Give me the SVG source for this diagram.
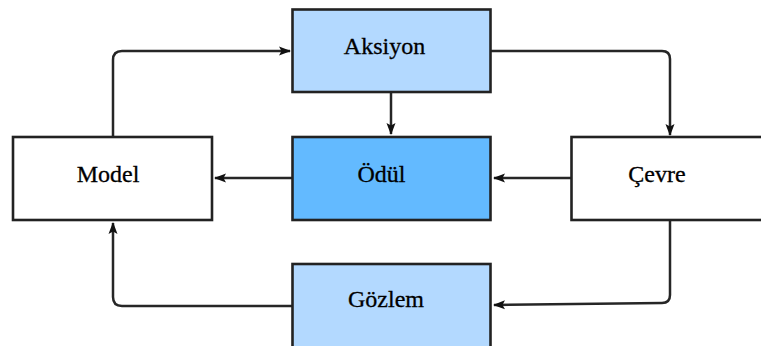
<svg xmlns="http://www.w3.org/2000/svg" width="761" height="346" viewBox="0 0 761 346">
<defs>
<style>
.box{stroke:#222;stroke-width:2.6}
.light{fill:#b3d9ff}
.dark{fill:#63baff}
.white{fill:#fff}
.lbl{font-family:'Liberation Serif','Times New Roman',Times,serif;font-size:24px;fill:#000;stroke:#000;stroke-width:0.3;text-anchor:middle}
.conn{fill:none;stroke:#262626;stroke-width:2.5}
</style>
<marker id="ah" viewBox="0 0 12 10" refX="11" refY="5" markerWidth="12" markerHeight="10" markerUnits="userSpaceOnUse" orient="auto">
<path d="M0,0.5 L12,5 L0,9.5 L2.5,5 Z" fill="#111"/>
</marker>
</defs>
<rect width="761" height="346" fill="#fff"/>
<g id="connectors">
<path class="conn" d="M491,51 H662 Q670,51 670,59 V135" marker-end="url(#ah)"/>
<path class="conn" d="M391,92 V134" marker-end="url(#ah)"/>
<path class="conn" d="M571,178 H494" marker-end="url(#ah)"/>
<path class="conn" d="M292,178 H215" marker-end="url(#ah)"/>
<path class="conn" d="M113,136 V60 Q113,51 122,51 H290" marker-end="url(#ah)"/>
<path class="conn" d="M670,220 V295 Q670,303 662,303 L494,305" marker-end="url(#ah)"/>
<path class="conn" d="M292,306 H122 Q113,306 113,297 V223" marker-end="url(#ah)"/>
</g>
<g id="aksiyon">
<rect class="box light" x="292.5" y="9.5" width="198" height="82.5"/>
<text class="lbl" x="384.5" y="54" font-family="Liberation Serif, serif">Aksiyon</text>
</g>
<g id="odul">
<rect class="box dark" x="292.5" y="137" width="198" height="83"/>
<text class="lbl" x="381.5" y="181.5" font-family="Liberation Serif, serif">Ödül</text>
</g>
<g id="model">
<rect class="box white" x="13" y="137" width="199" height="83"/>
<text class="lbl" x="108" y="181.5" font-family="Liberation Serif, serif">Model</text>
</g>
<g id="cevre">
<rect class="box white" x="571.5" y="137" width="199" height="83"/>
<text class="lbl" x="657" y="181.5" font-family="Liberation Serif, serif">Çevre</text>
</g>
<g id="gozlem">
<rect class="box light" x="292.5" y="264" width="198" height="90"/>
<text class="lbl" x="386" y="307" font-family="Liberation Serif, serif">Gözlem</text>
</g>
</svg>
